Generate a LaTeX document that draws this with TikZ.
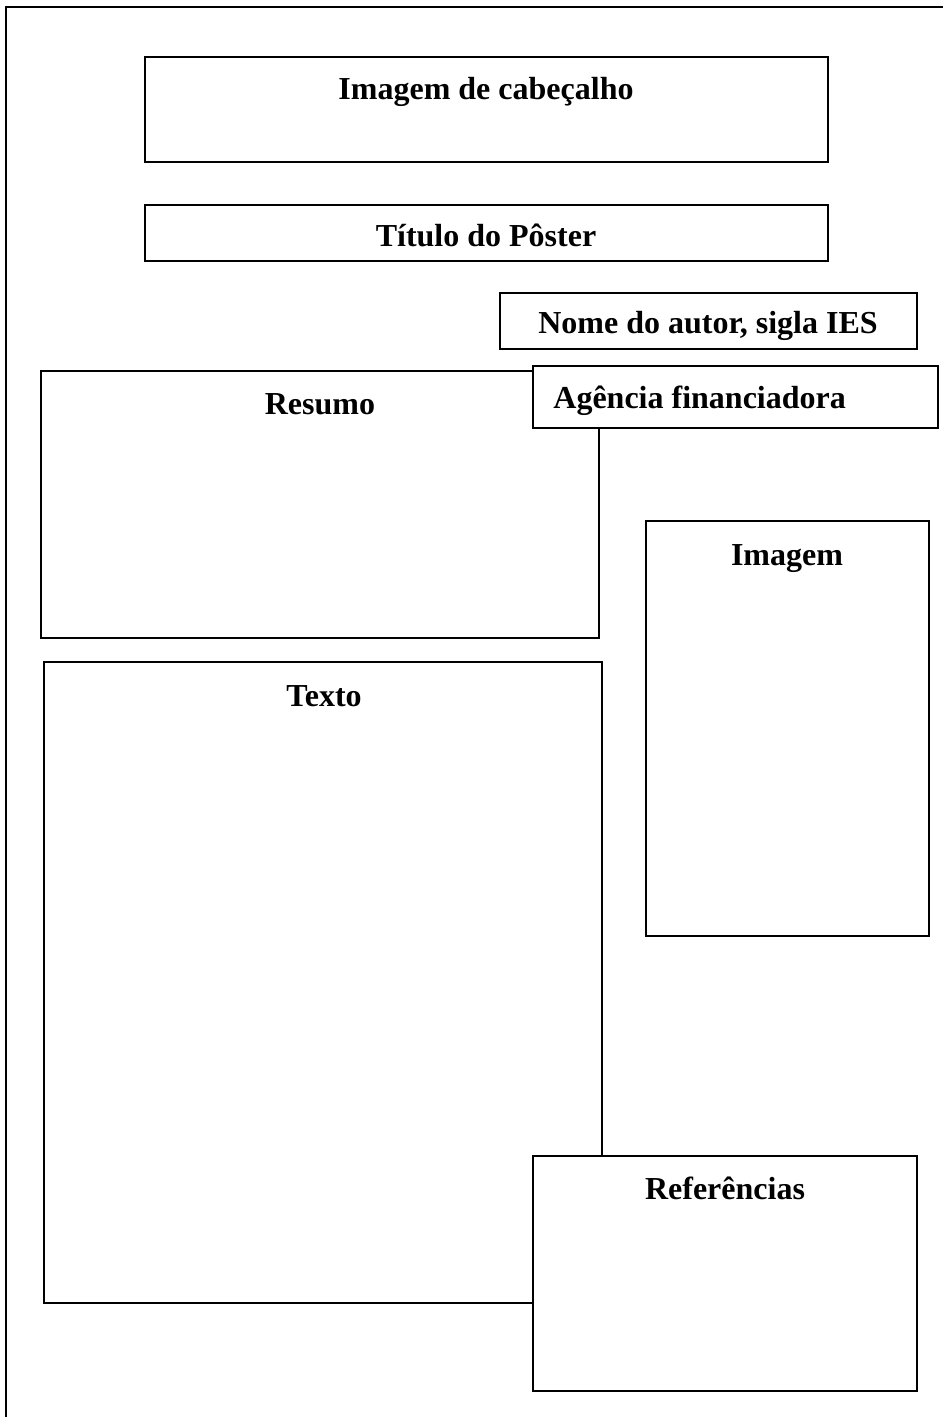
\documentclass[tikz,border=0pt]{standalone}
\usepackage{fontspec}
\setmainfont{Liberation Serif}
\usetikzlibrary{fit}
\tikzset{
  box/.style={draw, fill=white, line width=0.75pt, inner sep=0pt},
  rotulo/.style={font=\fontsize{16}{19}\selectfont\bfseries, anchor=base, inner sep=0pt}
}
\begin{document}
\begin{tikzpicture}[x=0.5pt, y=-0.5pt]
  \useasboundingbox (0,0) rectangle (943,1417);
  % moldura da pagina
  \draw[line width=1pt] (6,1417) -- (6,7) -- (943,7);
  % cabecalho e titulo
  \node[box, fit={(145,57) (828,162)}] (cabecalho) {};
  \node[rotulo] (tcabecalho) at (486,100) {Imagem de cabeçalho};
  \node[box, fit={(145,205) (828,261)}] (titulo) {};
  \node[rotulo] (ttitulo) at (486,247) {Título do Pôster};
  \node[box, fit={(500,293) (917,349)}] (autor) {};
  \node[rotulo] (tautor) at (708,334) {Nome do autor, sigla IES};
  % resumo fica por baixo da agencia
  \node[box, fit={(41,371) (599,638)}] (resumo) {};
  \node[rotulo] (tresumo) at (320,414) {Resumo};
  \node[box, fit={(533,366) (938,428)}] (agencia) {};
  \node[rotulo, anchor=base west] (tagencia) at (553,408) {Agência financiadora};
  \node[box, fit={(646,521) (929,936)}] (imagem) {};
  \node[rotulo] (timagem) at (787,565) {Imagem};
  % texto fica por baixo das referencias
  \node[box, fit={(44,662) (602,1303)}] (texto) {};
  \node[rotulo] (ttexto) at (324,706) {Texto};
  \node[box, fit={(533,1156) (917,1391)}] (referencias) {};
  \node[rotulo] (treferencias) at (725,1199) {Referências};
\end{tikzpicture}
\end{document}
